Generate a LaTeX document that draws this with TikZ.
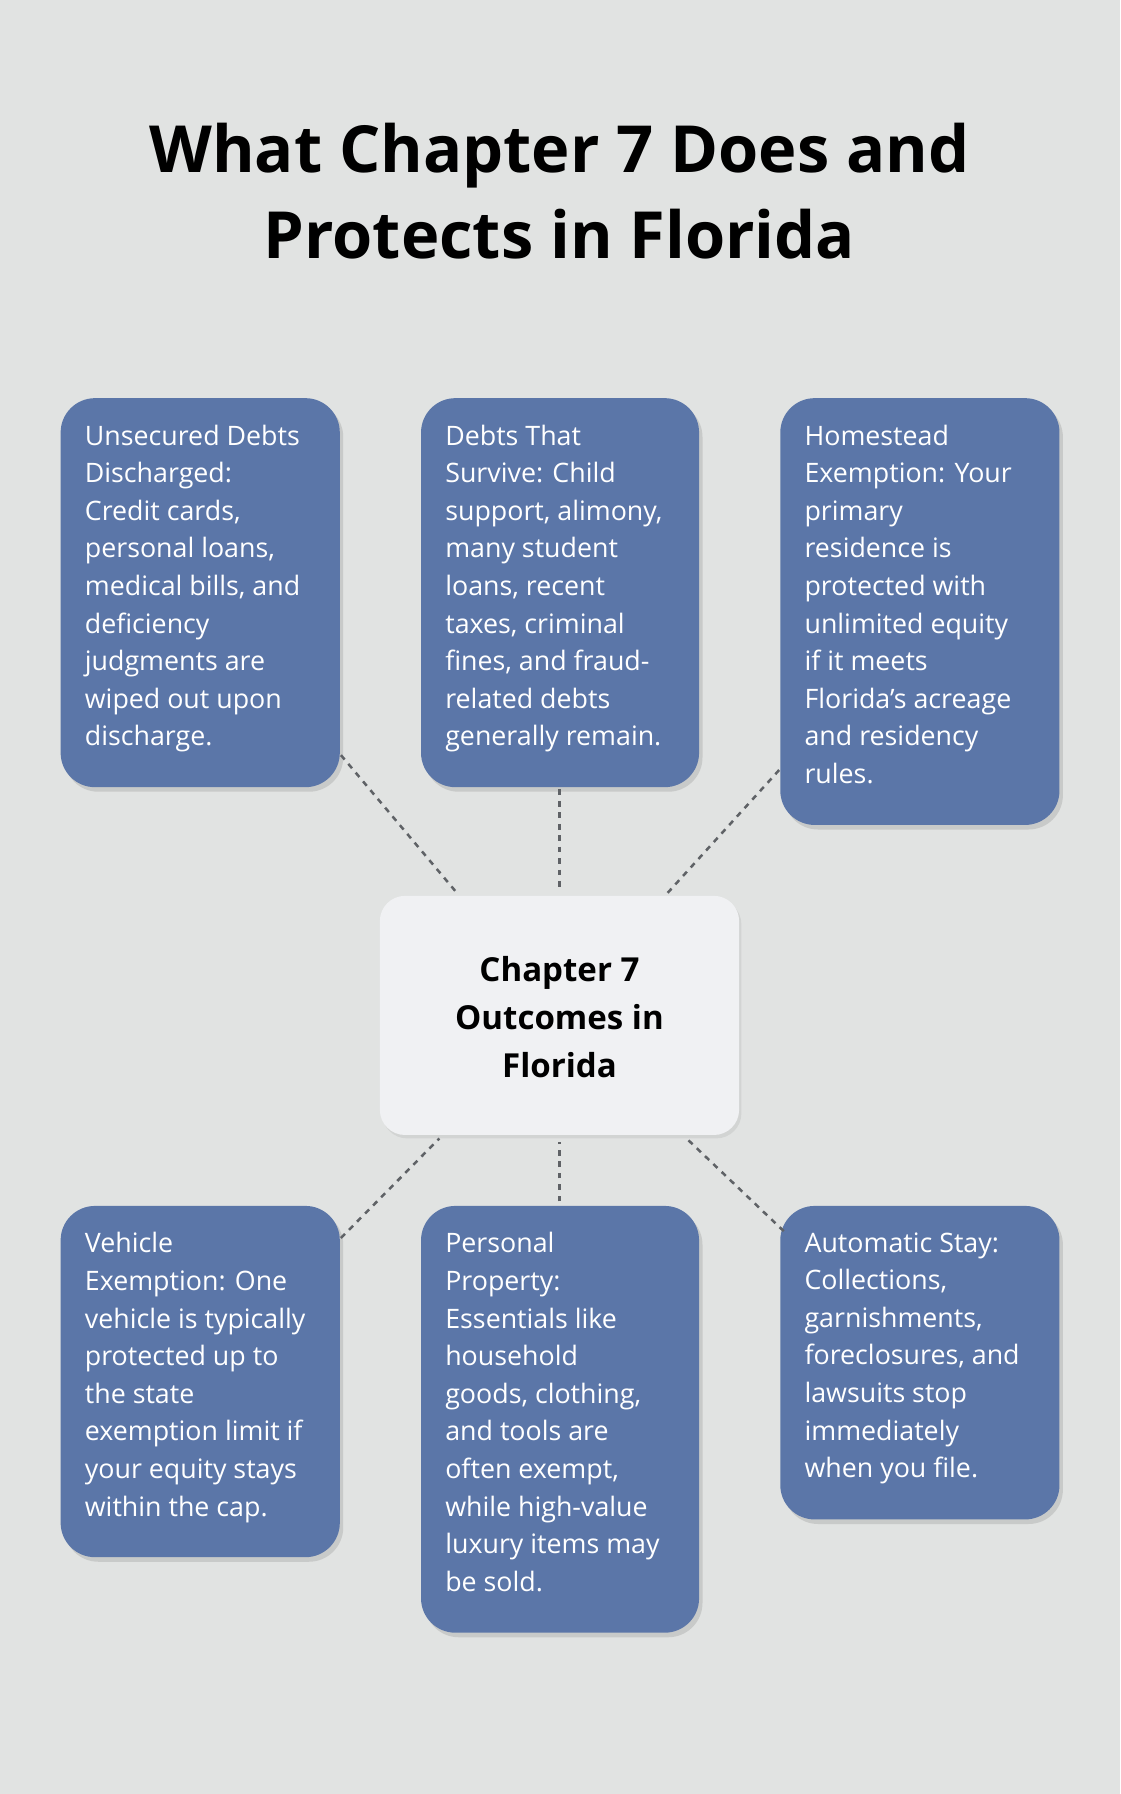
\documentclass[tikz,border=0pt]{standalone}
\usepackage{fontspec}
\setmainfont{Open Sans}
\usetikzlibrary{shadows}
\definecolor{bg}{HTML}{E1E3E2}
\definecolor{boxc}{HTML}{5B76A8}
\definecolor{cen}{HTML}{F0F1F3}
\definecolor{lnc}{HTML}{5F6266}
\begin{document}
\begin{tikzpicture}[x=1bp,y=-1bp,
 card/.style={fill=boxc,rounded corners=30bp,drop shadow={shadow xshift=3bp,shadow yshift=-4bp,opacity=0.25}},
 txt/.style={anchor=north west,text=white,align=left,font=\fontsize{23.5}{33}\selectfont,inner sep=0},
 conn/.style={draw=lnc,line width=2.2bp,dash pattern=on 5bp off 5bp}]
\fill[bg] (0,0) rectangle (979,1568);
\useasboundingbox (0,0) rectangle (979,1568);
\node[font=\fontsize{57}{75}\selectfont\bfseries,align=center] (title) at (489,167) {What Chapter 7 Does and\\Protects in Florida};
\path[card] (53,348) rectangle (297,688);
\path[card] (368,348) rectangle (611,688);
\path[card] (682,348) rectangle (926,721);
\path[card] (53,1054) rectangle (297,1361);
\path[card] (368,1054) rectangle (611,1427);
\path[card] (682,1054) rectangle (926,1328);
\path[fill=cen,rounded corners=22bp,drop shadow={shadow xshift=2bp,shadow yshift=-3bp,opacity=0.15}] (332,783) rectangle (646,992);
\node[txt] (t1) at (74,371) {Unsecured Debts\\Discharged:\\Credit cards,\\personal loans,\\medical bills, and\\deficiency\\judgments are\\wiped out upon\\discharge.};
\node[txt] (t2) at (389,371) {Debts That\\Survive: Child\\support, alimony,\\many student\\loans, recent\\taxes, criminal\\fines, and fraud-\\related debts\\generally remain.};
\node[txt] (t3) at (703,371) {Homestead\\Exemption: Your\\primary\\residence is\\protected with\\unlimited equity\\if it meets\\Florida’s acreage\\and residency\\rules.};
\node[txt] (t4) at (74,1077) {Vehicle\\Exemption: One\\vehicle is typically\\protected up to\\the state\\exemption limit if\\your equity stays\\within the cap.};
\node[txt] (t5) at (389,1077) {Personal\\Property:\\Essentials like\\household\\goods, clothing,\\and tools are\\often exempt,\\while high-value\\luxury items may\\be sold.};
\node[txt] (t6) at (703,1077) {Automatic Stay:\\Collections,\\garnishments,\\foreclosures, and\\lawsuits stop\\immediately\\when you file.};
\node[font=\fontsize{29}{42}\selectfont\bfseries,align=center] (c) at (489,889) {Chapter 7\\Outcomes in\\Florida};
\coordinate (a1) at (298,660); \coordinate (b1) at (399,780);
\coordinate (a2) at (489,690); \coordinate (b2) at (489,778);
\coordinate (a3) at (681,673); \coordinate (b3) at (583,781);
\coordinate (a4) at (298,1082); \coordinate (b4) at (384,995);
\coordinate (a5) at (489,1050); \coordinate (b5) at (489,998);
\coordinate (a6) at (685,1076); \coordinate (b6) at (600,995);
\foreach \i in {1,...,6}{\draw[conn] (a\i) -- (b\i);}
\end{tikzpicture}
\end{document}
